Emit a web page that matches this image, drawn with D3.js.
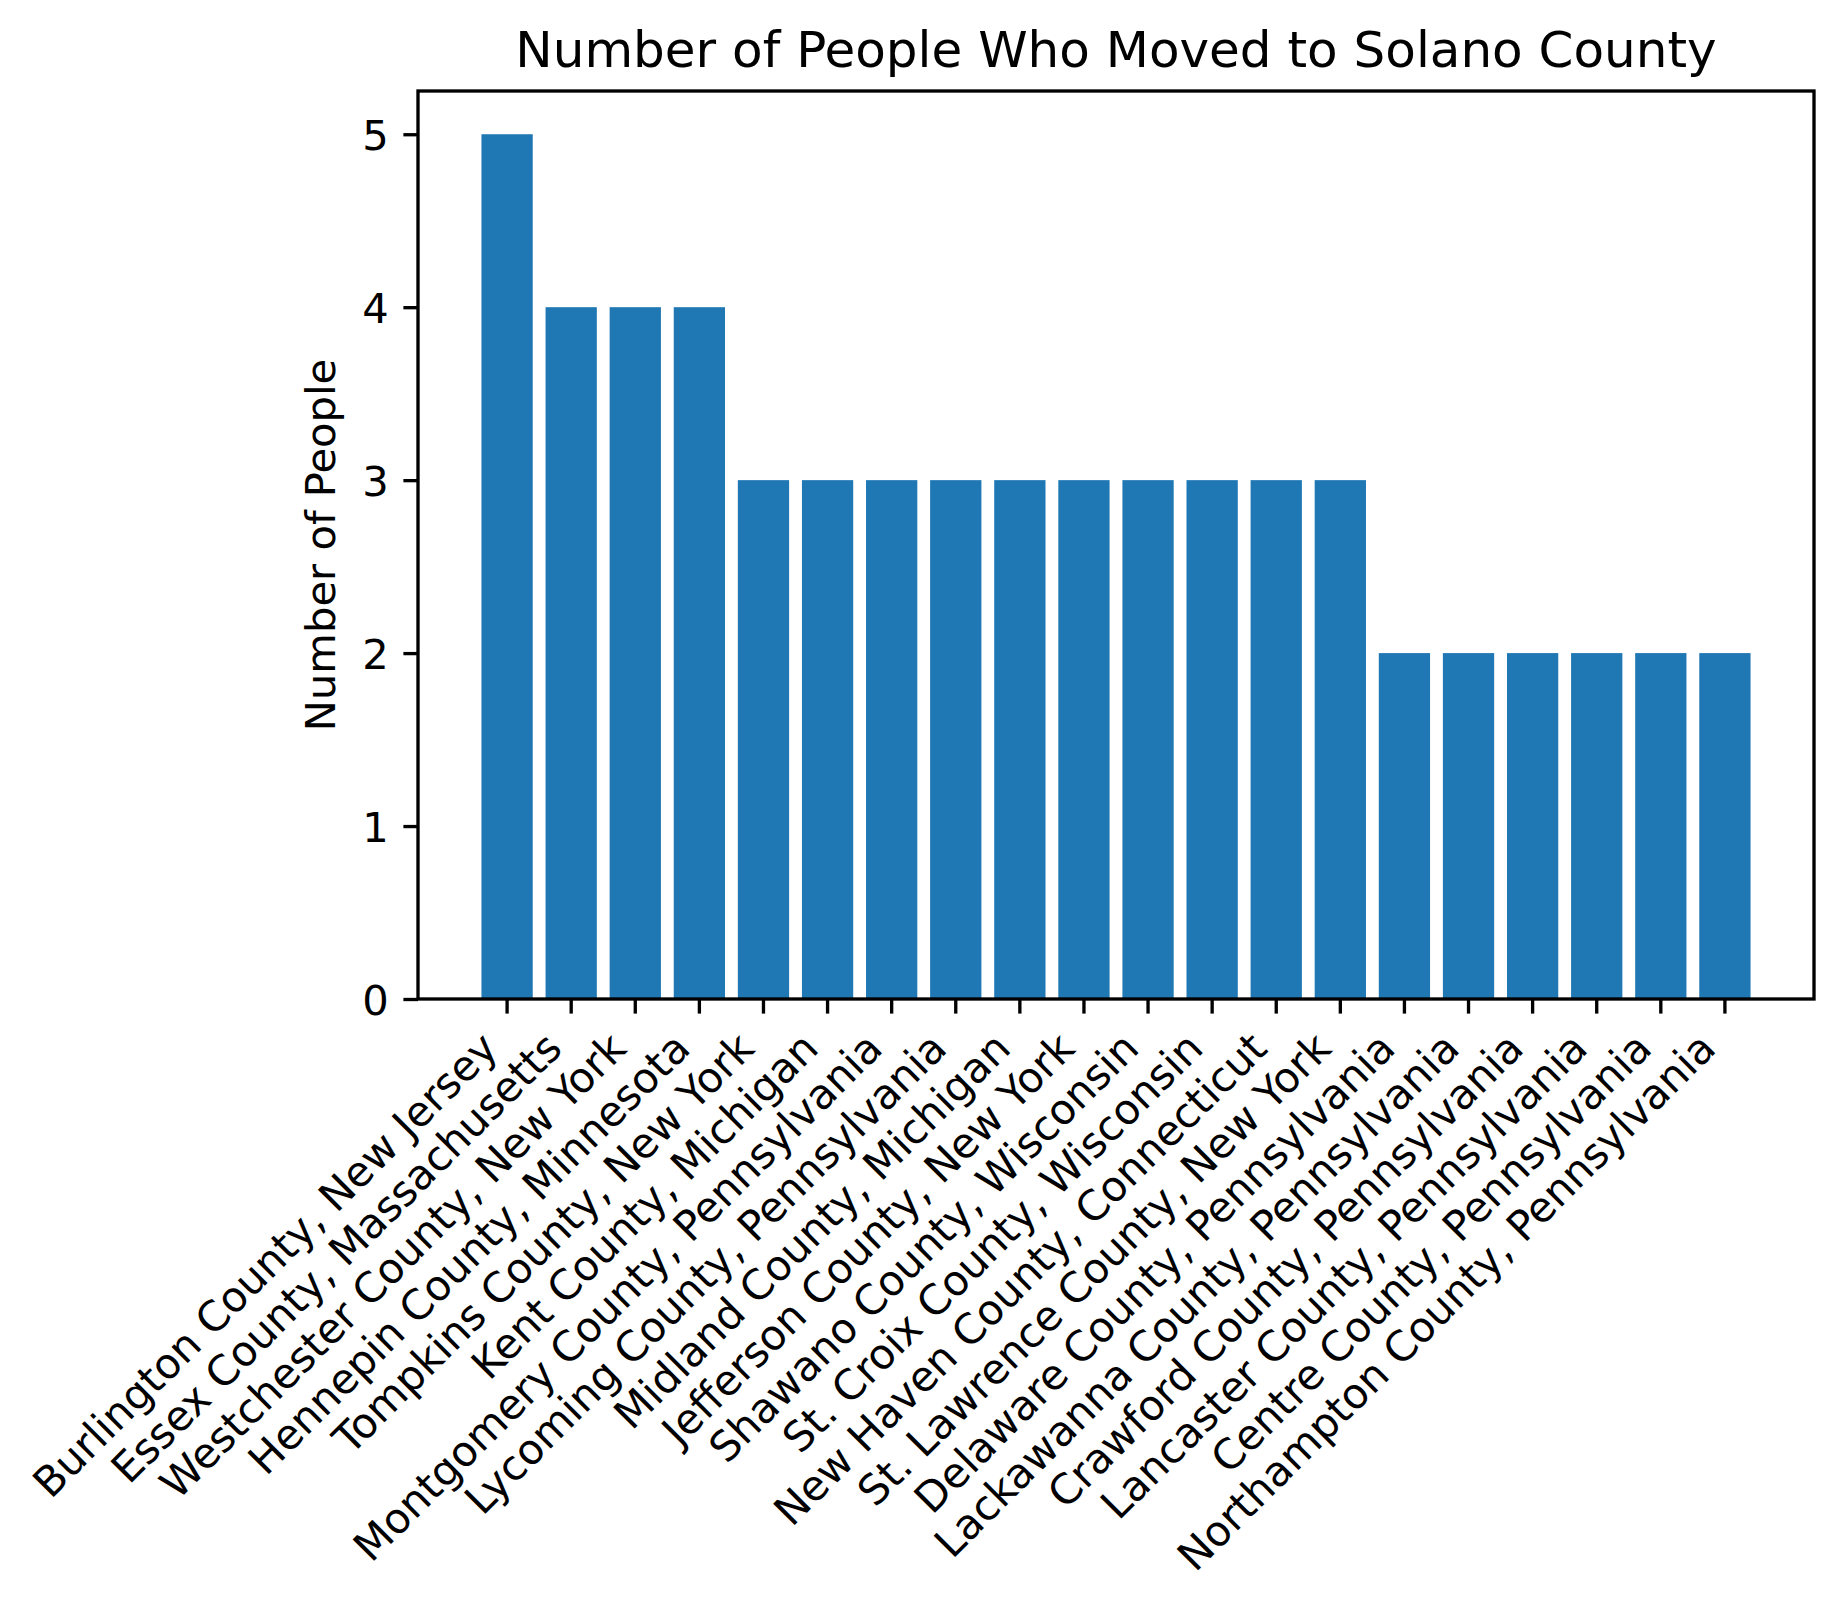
<!DOCTYPE html>
<html><head><meta charset="utf-8">
<script src="https://cdn.jsdelivr.net/npm/d3@7"></script>
<style>body{margin:0;background:#fff;} svg{display:block;font-family:"DejaVu Sans",sans-serif;}</style>
</head><body>
<svg id="chart" width="1847" height="1609"></svg>
<script>
const categories = [
  "Burlington County, New Jersey",
  "Essex County, Massachusetts",
  "Westchester County, New York",
  "Hennepin County, Minnesota",
  "Tompkins County, New York",
  "Kent County, Michigan",
  "Montgomery County, Pennsylvania",
  "Lycoming County, Pennsylvania",
  "Midland County, Michigan",
  "Jefferson County, New York",
  "Shawano County, Wisconsin",
  "St. Croix County, Wisconsin",
  "New Haven County, Connecticut",
  "St. Lawrence County, New York",
  "Delaware County, Pennsylvania",
  "Lackawanna County, Pennsylvania",
  "Crawford County, Pennsylvania",
  "Lancaster County, Pennsylvania",
  "Centre County, Pennsylvania",
  "Northampton County, Pennsylvania"
];
const values = [5,4,4,4,3,3,3,3,3,3,3,3,3,3,2,2,2,2,2,2];
const yTicks = [0,1,2,3,4,5];
const titleText = "Number of People Who Moved to Solano County";
const yLabelText = "Number of People";

const L = 418, R = 1814, T = 91, B = 999;
const fs = 41.67, lw = 3.33, tickLen = 14.6, tickPad = 14.6;
const svg = d3.select("#chart");

const x = d3.scaleBand().domain(categories).range([L, R]).paddingInner(0.2).paddingOuter(0.99);
const y = d3.scaleLinear().domain([0, 5.25]).range([B, T]);

svg.append("g").selectAll("rect").data(values).join("rect")
  .attr("x", (d,i) => x(categories[i]))
  .attr("width", x.bandwidth())
  .attr("y", d => y(d))
  .attr("height", d => y(0) - y(d))
  .attr("fill", "#1f77b4");

// y axis
const yAxis = svg.append("g").attr("transform", `translate(${L},0)`)
  .call(d3.axisLeft(y).tickValues(yTicks).tickFormat(d3.format("d")).tickSize(tickLen).tickSizeOuter(0).tickPadding(tickPad));
yAxis.select(".domain").remove();
yAxis.selectAll(".tick line").attr("stroke", "#000").attr("stroke-width", lw);
yAxis.selectAll(".tick text").attr("font-size", fs).attr("fill", "#000").attr("dy", "0.36em")
  .attr("font-family", "DejaVu Sans");

// x axis
const xAxis = svg.append("g").attr("transform", `translate(0,${B})`)
  .call(d3.axisBottom(x).tickSize(tickLen).tickSizeOuter(0));
xAxis.select(".domain").remove();
xAxis.selectAll(".tick line").attr("stroke", "#000").attr("stroke-width", lw);
const asc = 0.76 * fs, desc = 0.24 * fs, c = Math.SQRT1_2;
xAxis.selectAll(".tick text")
  .attr("font-size", fs).attr("fill", "#000").attr("font-family", "DejaVu Sans")
  .attr("text-anchor", "end").attr("dy", null).attr("x", 0).attr("y", 0)
  .attr("transform", `translate(${-c*desc},${tickLen + tickPad + c*asc}) rotate(-45)`);

// spines
svg.append("rect").attr("x", L).attr("y", T).attr("width", R - L).attr("height", B - T)
  .attr("fill", "none").attr("stroke", "#000").attr("stroke-width", lw);

// title
svg.append("text").attr("x", (L + R) / 2).attr("y", 67).attr("text-anchor", "middle")
  .attr("font-size", 50).attr("fill", "#000").text(titleText);

// y label
svg.append("text").attr("transform", `translate(335,${(T + B) / 2}) rotate(-90)`)
  .attr("text-anchor", "middle").attr("font-size", fs).attr("fill", "#000").text(yLabelText);
</script>
</body></html>
